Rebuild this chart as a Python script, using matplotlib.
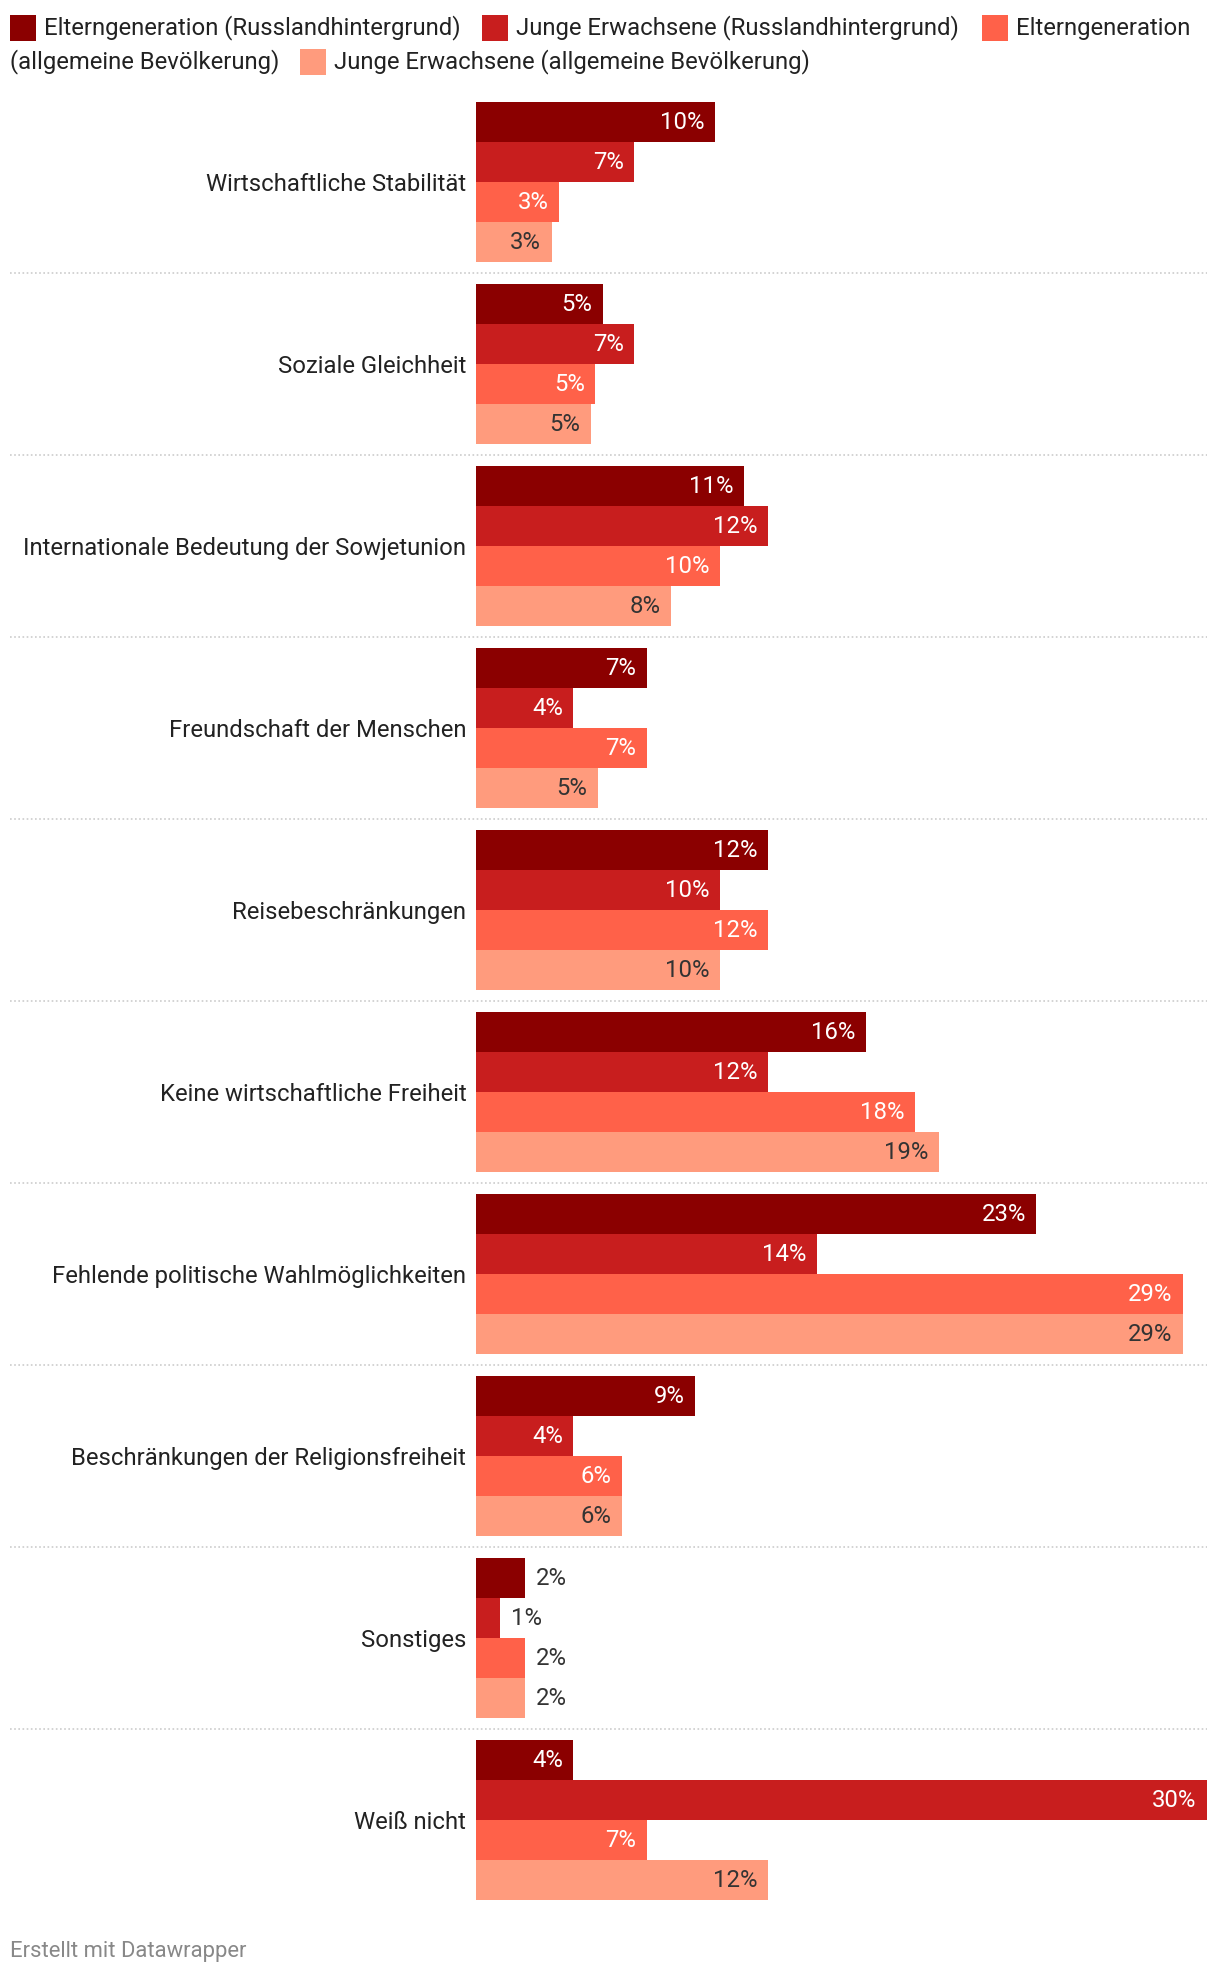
import matplotlib
matplotlib.use("Agg")
from matplotlib import pyplot as plt
from matplotlib import transforms
from matplotlib.patches import Rectangle

plt.rcParams['font.family'] = ['Roboto', 'DejaVu Sans']

# data
categories = ['Wirtschaftliche Stabilität', 'Soziale Gleichheit',
              'Internationale Bedeutung der Sowjetunion', 'Freundschaft der Menschen',
              'Reisebeschränkungen', 'Keine wirtschaftliche Freiheit',
              'Fehlende politische Wahlmöglichkeiten', 'Beschränkungen der Religionsfreiheit',
              'Sonstiges', 'Weiß nicht']
eltern_russ = [9.8, 5.2, 11.0, 7.0, 12.0, 16.0, 23.0, 9.0, 2.0, 4.0]
junge_russ = [6.5, 6.5, 12.0, 4.0, 10.0, 12.0, 14.0, 4.0, 1.0, 30.0]
eltern_allg = [3.4, 4.9, 10.0, 7.0, 12.0, 18.0, 29.0, 6.0, 2.0, 7.0]
junge_allg = [3.1, 4.7, 8.0, 5.0, 10.0, 19.0, 29.0, 6.0, 2.0, 12.0]

series = [eltern_russ, junge_russ, eltern_allg, junge_allg]
colors = ['#8b0000', '#c81e1e', '#ff6149', '#ff9b7d']
text_in = ['white', 'white', 'white', '#333333']

FS = 17.2

W, H = 1220, 1978
fig = plt.figure(figsize=(W / 100, H / 100), dpi=100)

# pixel layout of the plot area
bar_h = 40
pitch = 182
x0, x1 = 476, 1207
top, bottom = 102, 102 + 9 * pitch + 4 * bar_h
ax = fig.add_axes([x0 / W, 1 - bottom / H, (x1 - x0) / W, (bottom - top) / H])
ax.set_xlim(0, 30)
ax.set_ylim(bottom - top, 0)

for i, cat in enumerate(categories):
    for j, vals in enumerate(series):
        y = i * pitch + j * bar_h
        v = vals[i]
        ax.barh(y, v, height=bar_h, align='edge', color=colors[j], linewidth=0)
        lab = '{}%'.format(int(v + 0.5))
        if v < 3:
            ax.annotate(lab, (v, y + bar_h / 2), xytext=(8, -0.7), textcoords='offset points',
                        ha='left', va='center', fontsize=FS, color='#333333')
        else:
            ax.annotate(lab, (v, y + bar_h / 2), xytext=(-7.5, -0.7), textcoords='offset points',
                        ha='right', va='center', fontsize=FS, color=text_in[j])

ax.set_yticks([i * pitch + 2 * bar_h for i in range(len(categories))])
ax.set_yticklabels(categories, fontsize=FS, color='#222222')
ax.tick_params(axis='y', length=0, pad=7)
ax.set_xticks([])
for s in ax.spines.values():
    s.set_visible(False)

# dotted separators between groups
trans = transforms.blended_transform_factory(fig.transFigure, ax.transData)
for i in range(1, len(categories)):
    y = i * pitch - (pitch - 4 * bar_h) / 2
    ax.plot([10 / W, x1 / W], [y, y], transform=trans, color='#cccccc',
            linewidth=1.2, linestyle=(0, (1, 1.5)), clip_on=False)

# legend
legend_items = [
    (10, 28, 'Elterngeneration (Russlandhintergrund)'),
    (482, 28, 'Junge Erwachsene (Russlandhintergrund)'),
    (982, 28, 'Elterngeneration'),
    (300, 62, 'Junge Erwachsene (allgemeine Bevölkerung)'),
]
for k, (lx, ly, txt) in enumerate(legend_items):
    fig.patches.append(Rectangle((lx / W, 1 - (ly + 13) / H), 26 / W, 26 / H,
                                 transform=fig.transFigure, color=colors[k], linewidth=0))
    fig.text((lx + 34) / W, 1 - ly / H, txt, fontsize=FS, color='#222222', va='center')
fig.text(10 / W, 1 - 62 / H, '(allgemeine Bevölkerung)', fontsize=FS, color='#222222', va='center')

fig.text(10 / W, 1 - 1952 / H, 'Erstellt mit Datawrapper', fontsize=15.8, color='#888888', va='center')

fig.savefig('out.png', dpi=100, facecolor='white')
